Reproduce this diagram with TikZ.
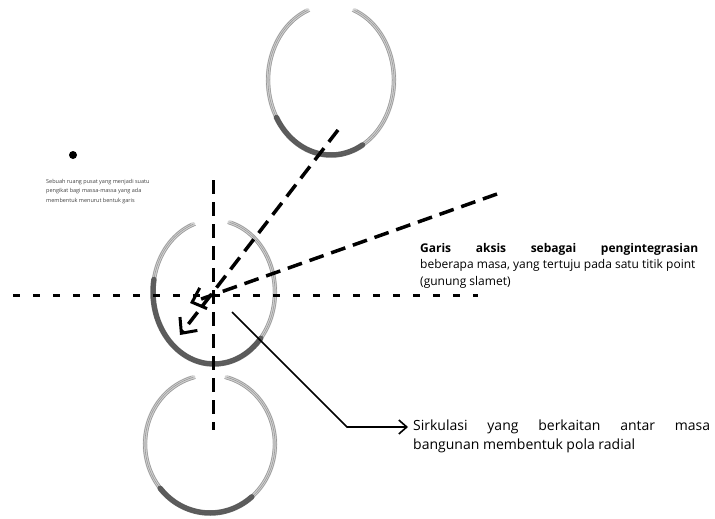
\documentclass[tikz,border=0pt]{standalone}
\usepackage{fontspec}
\setmainfont{Open Sans}
\usetikzlibrary{arrows.meta}

\begin{document}
\begin{tikzpicture}[x=1pt, y=-1pt,
    ringband/.style={gray!35, line width=4.5pt, line cap=round},
    ring/.style={gray!80, line width=0.6pt, line cap=round},
    ringdark/.style={black!70, line width=5.5pt, line cap=round, opacity=0.85},
    axisline/.style={line width=3pt, dash pattern=on 14pt off 8pt},
    crossline/.style={line width=3pt, dash pattern=on 7pt off 13pt},
    aksisarrow/.style={line width=3.5pt, dash pattern=on 15pt off 8pt,
        -{Straight Barb[length=12pt, width=22pt, line width=3pt]}},
    sirkarrow/.style={line width=1.6pt, -{Straight Barb[length=8pt, width=14pt]}}]
    \useasboundingbox (0,0) rectangle (715,519);

    % tiga massa bangunan (lingkaran sketsa)
    \foreach \cx/\cy/\a/\b/\s/\e/\ds/\de in {331/80/63/75/292/608/60/150,
            214/292/61/72/285/610/40/190, 210/444/65/69/285/615/50/140} {
        \draw[ringband] (\cx,\cy) ++({\a*cos(\s)},{\b*sin(\s)})
            arc[start angle=\s, end angle=\e, x radius=\a, y radius=\b];
        \foreach \r in {-1.8,0,1.6} {
            \draw[ring] (\cx,\cy) ++({(\a+\r)*cos(\s+\r)},{(\b+\r)*sin(\s+\r)})
                arc[start angle=\s+\r, end angle=\e-\r, x radius=\a+\r, y radius=\b+\r];
        }
        \draw[ringdark] (\cx,\cy) ++({(\a)*cos(\ds)},{(\b)*sin(\ds)})
            arc[start angle=\ds, end angle=\de, x radius=\a, y radius=\b];
    }

    % sumbu
    \coordinate (sumbuatas) at (213,180);
    \coordinate (sumbubawah) at (213,430);
    \coordinate (sumbukiri) at (13,295);
    \coordinate (sumbukanan) at (478,295);
    \draw[axisline] (sumbuatas) -- (sumbubawah);
    \draw[crossline] (sumbukiri) -- (sumbukanan);

    % garis aksis
    \coordinate (dariatas) at (338,130);
    \coordinate (darikanan) at (497,194);
    \coordinate (ujung1) at (180,335);
    \coordinate (ujung2) at (190,303);
    \draw[aksisarrow] (dariatas) -- (ujung1);
    \draw[aksisarrow] (darikanan) -- (ujung2);

    % keterangan
    \node[circle, fill, inner sep=0, minimum size=8pt] (titik) at (73,155) {};
    \node[anchor=north west, inner sep=0, align=left, text=black!75,
        font=\fontsize{5.5}{9.5}\selectfont] (ket) at (46,179)
        {Sebuah ruang pusat yang menjadi suatu\\
         pengikat bagi massa-massa yang ada\\
         membentuk menurut bentuk garis};

    \node[anchor=base west, inner sep=0, align=left,
        font=\fontsize{12}{16.5}\selectfont] (aksis) at (420,285)
        {\makebox[278pt][s]{\bfseries Garis aksis sebagai pengintegrasian}\\
         beberapa masa, yang tertuju pada satu titik point\\
         (gunung slamet)};

    \node[anchor=base west, inner sep=0, align=left,
        font=\fontsize{14}{19}\selectfont] (sirkulasi) at (413,449)
        {\makebox[297pt][s]{Sirkulasi yang berkaitan antar masa}\\
         bangunan membentuk pola radial};

    % sirkulasi
    \coordinate (pangkal) at (232,312);
    \coordinate (tekuk) at (347,427);
    \draw[sirkarrow] (pangkal) -- (tekuk) -- ([xshift=-5pt]tekuk -| sirkulasi.west);
\end{tikzpicture}
\end{document}
